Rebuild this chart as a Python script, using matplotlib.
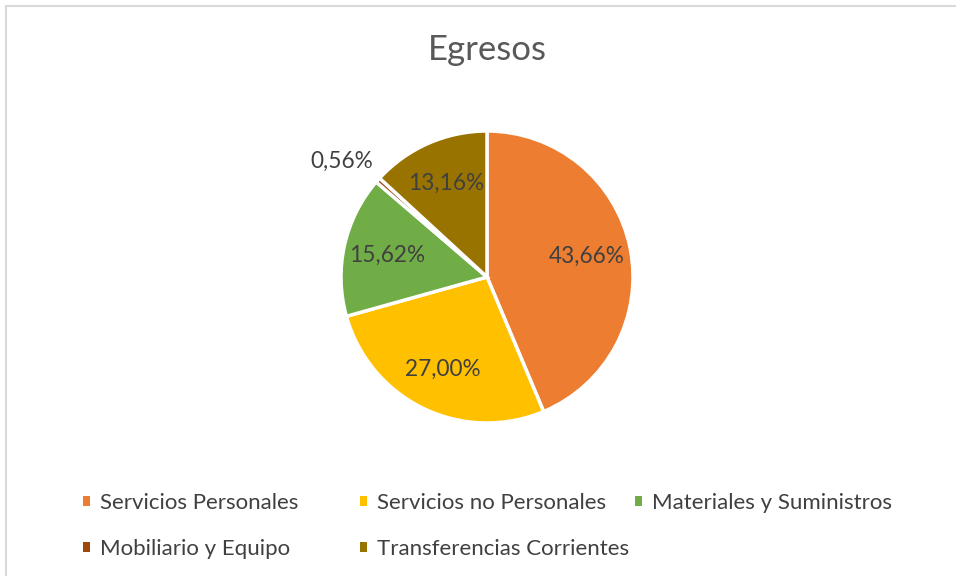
import numpy as np
import matplotlib.pyplot as plt
from matplotlib.patches import Patch, Rectangle

plt.rcParams['font.family'] = ['Lato', 'DejaVu Sans']

categories = ['Servicios Personales', 'Servicios no Personales', 'Materiales y Suministros',
              'Mobiliario y Equipo', 'Transferencias Corrientes']
values = [43.66, 27.00, 15.62, 0.56, 13.16]
colors = ['#ED7D31', '#FFC000', '#70AD47', '#9E480E', '#997300']
title = 'Egresos'

W, H = 956, 576


def pct(v):
    return ('%.2f%%' % v).replace('.', ',')


def main():
    fig = plt.figure(figsize=(W / 100, H / 100), dpi=100)
    fig.patch.set_facecolor('white')

    # pie centred at (487, 277) px, radius 146 px
    cx, cy, r = 487, 277, 146
    ax = fig.add_axes([(cx - r) / W, (H - cy - r) / H, 2 * r / W, 2 * r / H])
    wedges, _ = ax.pie(values, colors=colors, startangle=90, counterclock=False, radius=1,
                       wedgeprops=dict(edgecolor='white', linewidth=2.5))
    ax.set_xlim(-1, 1)
    ax.set_ylim(-1, 1)
    ax.set_aspect('equal')
    ax.axis('off')

    for w, v in zip(wedges, values):
        theta = np.radians((w.theta1 + w.theta2) / 2)
        d = 0.7
        if v < 2:
            d = 1.27
            theta = theta + np.radians(3)
        ax.text(d * np.cos(theta), d * np.sin(theta), pct(v), ha='center', va='center',
                fontsize=16.3, color='#404040')

    fig.text(487 / W, 1 - 50 / H, title, ha='center', va='center', fontsize=25, color='#595959')

    # legend, filled row by row in three columns
    cols = [[0, 3], [1, 4], [2]]
    col_x = [83, 360, 635]
    for c, xpos in zip(cols, col_x):
        handles = [Patch(facecolor=colors[i], edgecolor='none') for i in c]
        labels = [categories[i] for i in c]
        fig.legend(handles, labels, loc='upper left', bbox_to_anchor=(xpos / W, 1 - 493 / H),
                   frameon=False, fontsize=16, labelcolor='#404040', borderpad=0,
                   borderaxespad=0, handlelength=0.33, handleheight=0.33,
                   handletextpad=0.45, labelspacing=1.18)

    fig.patches.append(Rectangle((6 / W, -0.1), 2, 1 - 6 / H + 0.1, transform=fig.transFigure,
                                 fill=False, edgecolor='#d9d9d9', linewidth=1.5))

    plt.savefig('out.png', dpi=100)


if __name__ == '__main__':
    main()
